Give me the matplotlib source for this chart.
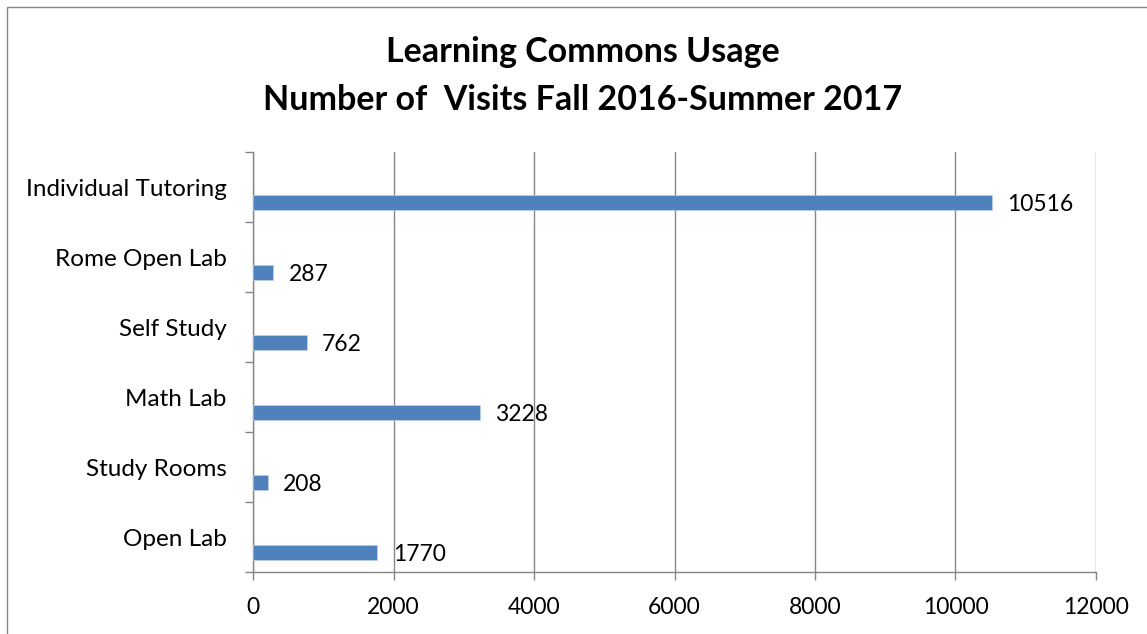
import matplotlib
matplotlib.use("Agg")
import matplotlib.pyplot as plt
from matplotlib.patches import Rectangle
from matplotlib.ticker import FixedLocator, MultipleLocator

categories = ["Open Lab", "Study Rooms", "Math Lab", "Self Study", "Rome Open Lab", "Individual Tutoring"]
visits = [1770, 208, 3228, 762, 287, 10516]
title_lines = ["Learning Commons Usage", "Number of  Visits Fall 2016-Summer 2017"]

plt.rcParams['font.family'] = ['Lato', 'DejaVu Sans']

W, H = 1147, 634
fig = plt.figure(figsize=(W / 100, H / 100), dpi=100)
fig.patch.set_facecolor("white")

grey = "#868686"
bar_color = "#4F81BD"

# outer chart border (extends past right/bottom edge)
fig.patches.append(Rectangle((7 / W, -0.5), 2.0, 1 - 7 / H + 0.5, transform=fig.transFigure,
                             fill=False, edgecolor=grey, linewidth=1.0))

ax = fig.add_axes([253 / W, 1 - 572 / H, (1096 - 253) / W, (572 - 152) / H])

ypos = list(range(len(categories)))
bar_h = 0.22
ax.barh([y - 0.22 for y in ypos], visits, height=bar_h, color=bar_color,
        edgecolor="#C6D6EA", linewidth=0.4, zorder=3)

for y, v in zip(ypos, visits):
    ax.annotate(f"{v}", xy=(v, y - 0.22), xytext=(11, -1.5), textcoords="offset points",
                ha="left", va="center", fontsize=16.5, color="black", zorder=4)

ax.set_xlim(0, 12000)
ax.set_ylim(-0.5, len(categories) - 0.5)
ax.xaxis.set_major_locator(MultipleLocator(2000))
ax.set_yticks(ypos)
ax.set_yticklabels(categories)
ax.yaxis.set_minor_locator(FixedLocator([y - 0.5 for y in range(len(categories) + 1)]))

ax.tick_params(axis="y", which="major", length=0, pad=19, labelsize=17.5, labelcolor="black")
ax.tick_params(axis="y", which="minor", length=6, width=1.0, color=grey, direction="out")
ax.tick_params(axis="x", which="major", length=6, width=1.0, color=grey, direction="out",
               pad=12, labelsize=16.5, labelcolor="black")

ax.grid(axis="x", color=grey, linewidth=1.0, zorder=0)
ax.set_axisbelow(True)
for s in ["top", "right"]:
    ax.spines[s].set_visible(False)
for s in ["left", "bottom"]:
    ax.spines[s].set_color(grey)
    ax.spines[s].set_linewidth(1.0)

fig.text(583 / W, 1 - 76 / H, "\n".join(title_lines), ha="center", va="center",
         fontsize=24.5, fontweight="bold", linespacing=1.6)

fig.savefig("out.png", dpi=100, facecolor="white")
